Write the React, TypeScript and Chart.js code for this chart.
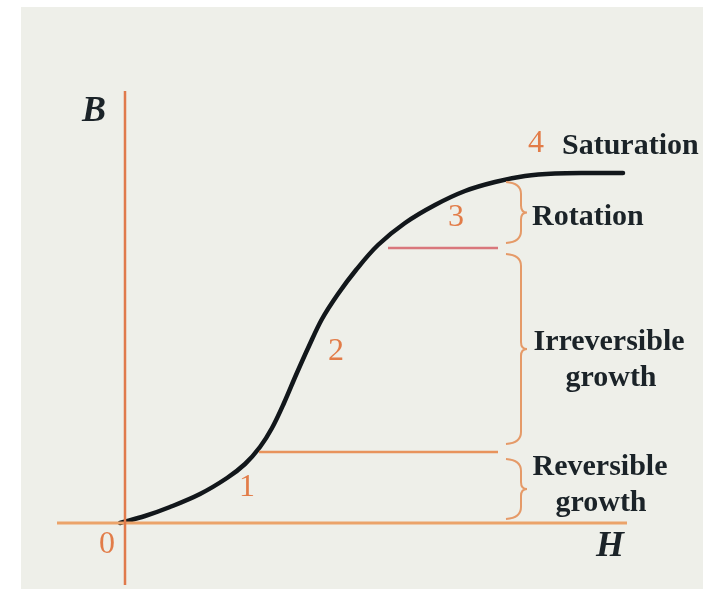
import React, { useEffect, useRef } from "react";
import { Chart, registerables } from "chart.js";

Chart.register(...registerables);

// Magnetization curve B(H) (arbitrary units)
const curveH = [-0.1, 0.4, 0.9, 1.5, 2.04, 2.4, 2.7, 2.94, 3.18, 3.42, 3.68, 3.94, 4.26, 4.62, 5.06, 5.6, 6.2, 6.8, 7.4, 8.0, 8.6, 9.3, 9.96];
const curveB = [0, 0.14, 0.32, 0.58, 0.9, 1.18, 1.52, 1.9, 2.4, 2.96, 3.54, 4.08, 4.58, 5.06, 5.56, 6.0, 6.36, 6.64, 6.82, 6.94, 6.99, 7.0, 7.0];

// axes extents
const hAxisRange = [-1.36, 10.04];
const bAxisRange = [-1.24, 8.64];

// stage boundary lines: [H start, H end, B level]
const stage1Line = [2.68, 7.46, 1.42];
const stage3Line = [5.26, 7.46, 5.5];

// braces: H position, [B low, B high]
const braceH = 7.92;
const braceRanges = [
  [5.62, 6.8],
  [1.6, 5.36],
  [0.1, 1.26],
];

// region labels
const regionLabels = ["Saturation", "Rotation", "Irreversible", "growth", "Reversible", "growth"];
const regionLabelH = [8.74, 8.14, 9.68, 9.72, 9.5, 9.52];
const regionLabelB = [7.54, 6.12, 3.62, 2.9, 1.12, 0.4];
const regionLabelAlign = ["left", "left", "center", "center", "center", "center"];

// stage numbers
const stageNums = ["0", "1", "2", "3", "4"];
const stageNumH = [-0.36, 2.44, 4.22, 6.62, 8.22];
const stageNumB = [-0.44, 0.7, 3.42, 6.1, 7.58];

// axis titles
const axisTitles = ["B", "H"];
const axisTitleH = [-0.62, 9.7];
const axisTitleB = [8.22, -0.48];

const ORANGE = "#e27c48";
const TEXT = "#1b2328";

const annotPlugin = {
  id: "annot",
  afterDatasetsDraw(chart: any) {
    const ctx = chart.ctx;
    const xs = chart.scales.x;
    const ys = chart.scales.y;
    ctx.save();
    // braces
    ctx.strokeStyle = "#e59a68";
    ctx.lineWidth = 2;
    braceRanges.forEach(([lo, hi]) => {
      const X = xs.getPixelForValue(braceH);
      const T = ys.getPixelForValue(hi);
      const Bm = ys.getPixelForValue(lo);
      const M = (T + Bm) / 2;
      ctx.beginPath();
      ctx.moveTo(X - 15, T - 1);
      ctx.quadraticCurveTo(X, T, X, T + 11);
      ctx.lineTo(X, M - 7);
      ctx.quadraticCurveTo(X, M, X + 6, M);
      ctx.quadraticCurveTo(X, M, X, M + 7);
      ctx.lineTo(X, Bm - 11);
      ctx.quadraticCurveTo(X, Bm, X - 15, Bm + 1);
      ctx.stroke();
    });
    // region labels
    ctx.fillStyle = TEXT;
    ctx.font = "bold 30px 'Liberation Serif', serif";
    ctx.textBaseline = "middle";
    regionLabels.forEach((t, i) => {
      ctx.textAlign = regionLabelAlign[i];
      ctx.fillText(t, xs.getPixelForValue(regionLabelH[i]), ys.getPixelForValue(regionLabelB[i]));
    });
    // stage numbers
    ctx.fillStyle = ORANGE;
    ctx.font = "32px 'Liberation Serif', serif";
    ctx.textAlign = "center";
    stageNums.forEach((t, i) => {
      ctx.fillText(t, xs.getPixelForValue(stageNumH[i]), ys.getPixelForValue(stageNumB[i]));
    });
    // axis titles
    ctx.fillStyle = TEXT;
    ctx.font = "italic bold 36px 'Liberation Serif', serif";
    axisTitles.forEach((t, i) => {
      ctx.fillText(t, xs.getPixelForValue(axisTitleH[i]), ys.getPixelForValue(axisTitleB[i]));
    });
    ctx.restore();
  },
};

export default function App() {
  const ref = useRef<HTMLCanvasElement>(null);
  useEffect(() => {
    if (!ref.current) return;
    const chart = new Chart(ref.current, {
      type: "line",
      data: {
        datasets: [
          {
            data: [
              { x: 0, y: bAxisRange[0] },
              { x: 0, y: bAxisRange[1] },
            ],
            borderColor: "#e07a4c",
            borderWidth: 2.5,
            pointRadius: 0,
          },
          {
            data: [
              { x: hAxisRange[0], y: 0 },
              { x: hAxisRange[1], y: 0 },
            ],
            borderColor: "#eba36a",
            borderWidth: 3,
            pointRadius: 0,
          },
          {
            data: [
              { x: stage1Line[0], y: stage1Line[2] },
              { x: stage1Line[1], y: stage1Line[2] },
            ],
            borderColor: "#e8935c",
            borderWidth: 2.5,
            pointRadius: 0,
          },
          {
            data: [
              { x: stage3Line[0], y: stage3Line[2] },
              { x: stage3Line[1], y: stage3Line[2] },
            ],
            borderColor: "#d9777c",
            borderWidth: 2.5,
            pointRadius: 0,
          },
          {
            data: curveH.map((h, i) => ({ x: h, y: curveB[i] })),
            borderColor: "#12171b",
            borderWidth: 4.5,
            pointRadius: 0,
            tension: 0.35,
            borderCapStyle: "round",
          },
        ],
      },
      options: {
        responsive: false,
        animation: false,
        layout: { padding: 0 },
        plugins: { legend: { display: false }, tooltip: { enabled: false } },
        scales: {
          x: { type: "linear", min: -2.5, max: 11.76, display: false },
          y: { type: "linear", min: -1.32, max: 10.46, display: false },
        },
      },
      plugins: [annotPlugin],
    });
    return () => chart.destroy();
  }, []);
  return (
    <div style={{ position: "absolute", left: 0, top: 0, width: 713, height: 589, background: "#ffffff" }}>
      <div style={{ position: "absolute", left: 21, top: 7, width: 682, height: 582, background: "#eeefe9" }} />
      <canvas ref={ref} width={713} height={589} style={{ position: "absolute", left: 0, top: 0 }} />
    </div>
  );
}
